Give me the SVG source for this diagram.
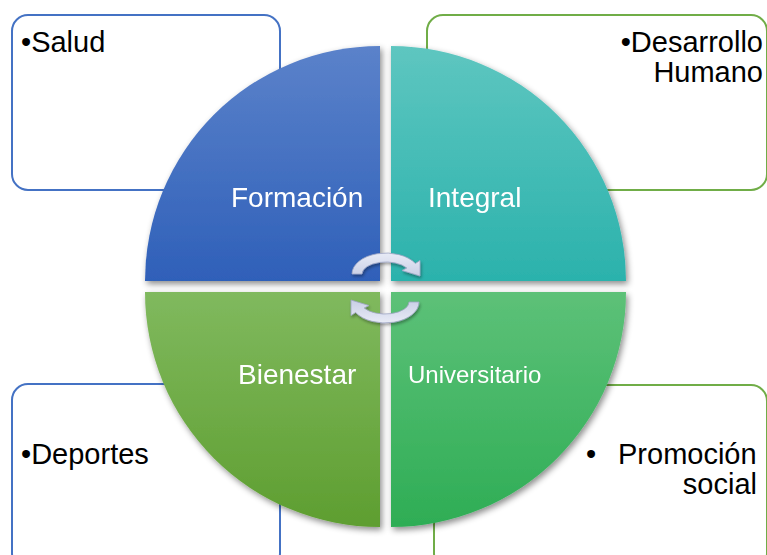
<svg xmlns="http://www.w3.org/2000/svg" width="767" height="555" viewBox="0 0 767 555">
<style>
.box{fill:#fff;stroke-width:2}
.blue{stroke:#4472C4}
.green{stroke:#70AD47}
.t{font-family:"Liberation Sans",Arial,Helvetica,sans-serif;font-size:29px;fill:#000}
.w{font-family:"Liberation Sans",Arial,Helvetica,sans-serif;font-size:28px;fill:#fff}
.arrow{fill:url(#ga);stroke:#9ea6c4;stroke-width:0.8}
</style>
<defs>
<linearGradient id="g1" x1="0" y1="0" x2="0" y2="1"><stop offset="0" stop-color="#5B82CA"/><stop offset="1" stop-color="#2F60B9"/></linearGradient>
<linearGradient id="g2" x1="0" y1="0" x2="0" y2="1"><stop offset="0" stop-color="#5EC6C0"/><stop offset="1" stop-color="#2BB2AC"/></linearGradient>
<linearGradient id="g3" x1="0" y1="0" x2="0" y2="1"><stop offset="0" stop-color="#80B95E"/><stop offset="1" stop-color="#5E9E30"/></linearGradient>
<linearGradient id="g4" x1="0" y1="0" x2="0" y2="1"><stop offset="0" stop-color="#5DC178"/><stop offset="1" stop-color="#2EAD55"/></linearGradient>
<linearGradient id="ga" x1="0" y1="0" x2="0" y2="1"><stop offset="0" stop-color="#e8ebf6"/><stop offset="1" stop-color="#c9cfe6"/></linearGradient>
<filter id="sh" x="-10%" y="-10%" width="125%" height="125%"><feDropShadow dx="2" dy="3" stdDeviation="3" flood-color="#000" flood-opacity="0.45"/></filter>
<filter id="sh2" x="-30%" y="-30%" width="160%" height="160%"><feDropShadow dx="1" dy="2" stdDeviation="1.5" flood-color="#000" flood-opacity="0.35"/></filter>
</defs>
<g id="box-salud"><rect class="box blue" x="12" y="15" width="268" height="175" rx="16"/><text class="t" x="21" y="52">•Salud</text></g>
<g id="box-desarrollo"><rect class="box green" x="427" y="15" width="340" height="175" rx="16"/><text class="t" text-anchor="end" x="763" y="52">•Desarrollo</text><text class="t" text-anchor="end" x="763" y="82">Humano</text></g>
<g id="box-deportes"><rect class="box blue" x="12" y="384" width="268" height="185" rx="16"/><text class="t" x="21" y="464">•Deportes</text></g>
<g id="box-promocion"><rect class="box green" x="434" y="385" width="333" height="184" rx="16"/><text class="t" x="586" y="464">•<tspan x="618">Promoción</tspan></text><text class="t" text-anchor="end" x="757" y="494">social</text></g>
<g id="q-formacion" filter="url(#sh)"><path d="M380 281 H145 A235 235 0 0 1 380 46 Z" fill="url(#g1)"/><text class="w" x="231" y="207">Formación</text></g>
<g id="q-integral" filter="url(#sh)"><path d="M391 281 V46 A235 235 0 0 1 626 281 Z" fill="url(#g2)"/><text class="w" x="428" y="207">Integral</text></g>
<g id="q-bienestar" filter="url(#sh)"><path d="M380 292 V527 A235 235 0 0 1 145 292 Z" fill="url(#g3)"/><text class="w" x="238" y="384">Bienestar</text></g>
<g id="q-universitario" filter="url(#sh)"><path d="M391 292 H626 A235 235 0 0 1 391 527 Z" fill="url(#g4)"/><text class="w" x="408" y="383" style="font-size:24px">Universitario</text></g>
<g id="connectors" filter="url(#sh2)">
<path class="arrow" d="M352 274 A34 21 0 0 1 415.4 263.5 L420 260.5 L420 276 L402 270.5 L406.8 268 A24 12 0 0 0 362 274 Z"/>
<path class="arrow" transform="rotate(180 385.5 288)" d="M352 274 A34 21 0 0 1 415.4 263.5 L420 260.5 L420 276 L402 270.5 L406.8 268 A24 12 0 0 0 362 274 Z"/>
</g>
</svg>
